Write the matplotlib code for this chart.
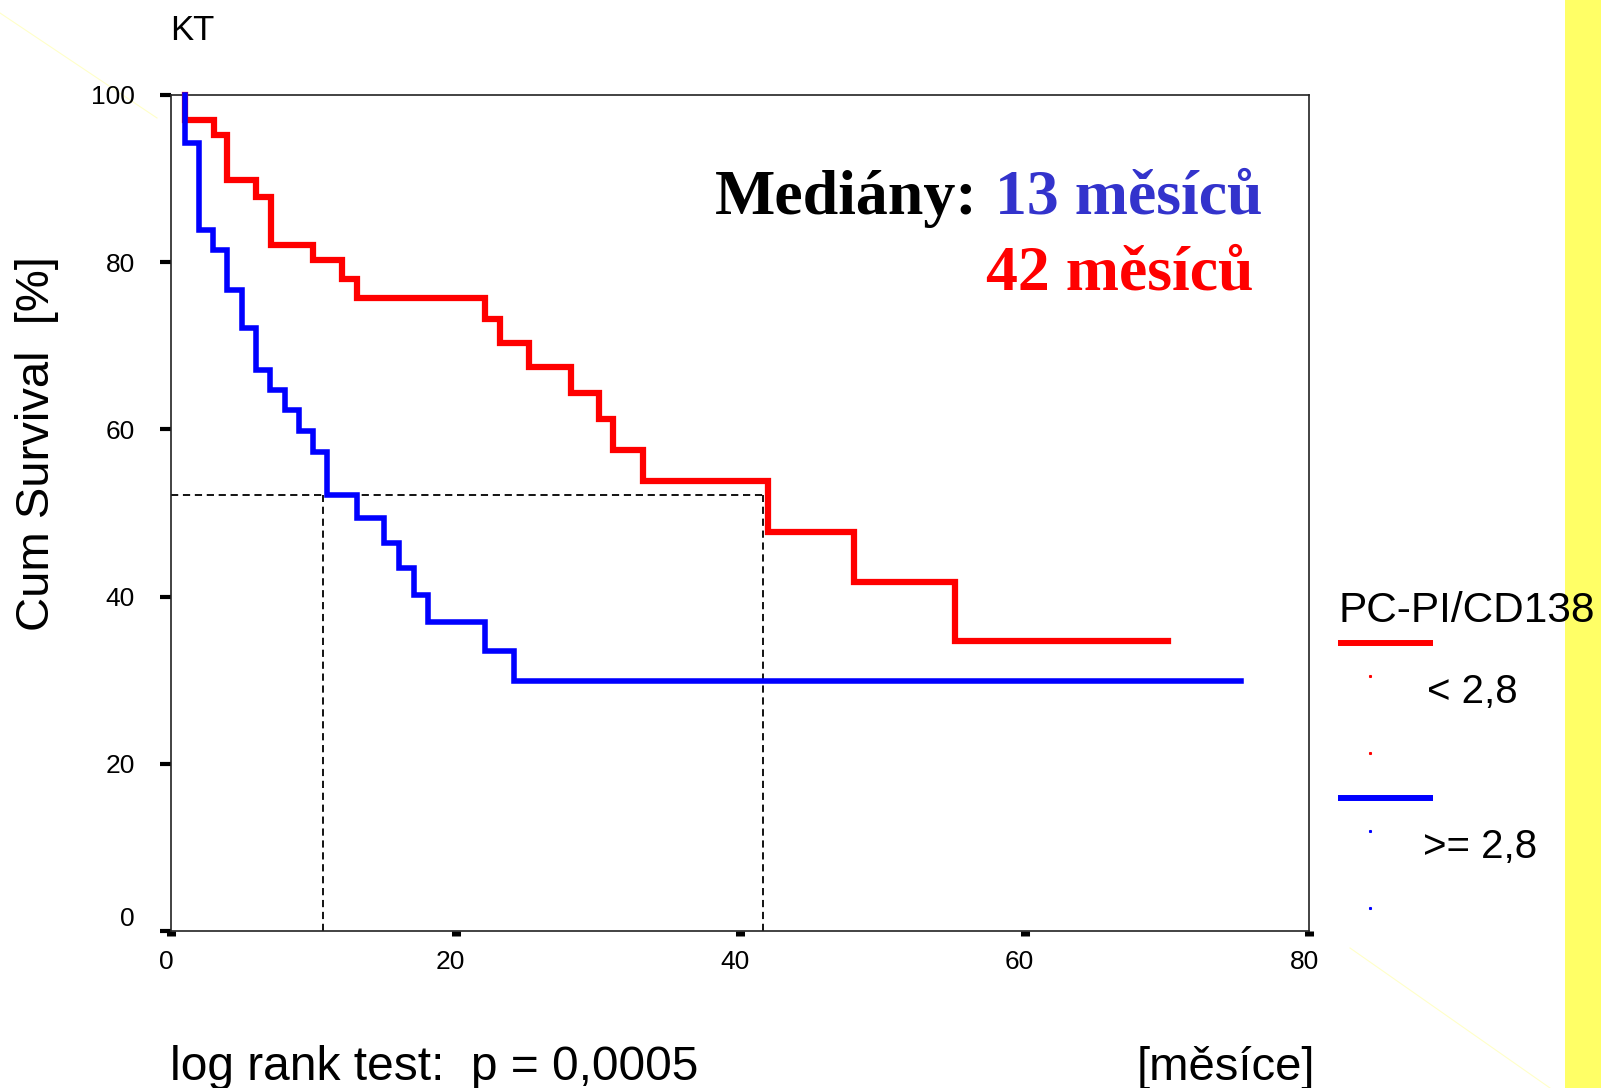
#!/usr/bin/env python3
"""
Kaplan-Meier survival curves (KT, PC-PI/CD138) redrawn with matplotlib.
"""

import matplotlib
matplotlib.use('Agg')
import matplotlib.pyplot as plt
import matplotlib.transforms as mtransforms
from matplotlib.lines import Line2D
from matplotlib.patches import Rectangle

# Red group: PC-PI/CD138 < 2,8 (event times in months, survival in %)
red_times = [1.0, 3.0, 3.95, 6.0, 7.0, 10.0, 12.0, 13.05, 22.1, 23.15, 25.15,
             28.1, 30.1, 31.1, 33.2, 42.0, 48.0, 55.1]
red_surv = [97.0, 95.2, 89.8, 87.8, 82.0, 80.3, 78.0, 75.7, 73.2, 70.3, 67.5,
            64.4, 61.2, 57.5, 53.8, 47.7, 41.7, 34.7]
red_end = 70.1

# Blue group: PC-PI/CD138 >= 2,8
blue_times = [1.0, 1.95, 2.97, 3.96, 5.0, 6.0, 6.97, 8.0, 9.0, 10.0, 11.0,
              13.07, 15.0, 16.05, 17.05, 18.06, 22.1, 24.1]
blue_surv = [94.2, 83.9, 81.5, 76.7, 72.1, 67.1, 64.7, 62.3, 59.8, 57.3, 52.2,
             49.4, 46.4, 43.4, 40.2, 37.0, 33.5, 29.9]
blue_end = 75.2

curve_start = 1.0
medians = [13, 42]
median_guide_x = [10.7, 41.6]
median_guide_y = 52.2

legend_title = 'PC-PI/CD138'
legend_labels = ['< 2,8', '>= 2,8']
xticks = [0, 20, 40, 60, 80]
yticks = [0, 20, 40, 60, 80, 100]

RED = '#FF0000'
BLUE = '#0000FF'
W, H = 1601, 1088


def fx(px):
    return px / W


def fy(py):
    return 1 - py / H


plt.rcParams['font.family'] = ['Liberation Sans', 'DejaVu Sans']

fig = plt.figure(figsize=(W / 100, H / 100), dpi=100)
fig.patch.set_facecolor('white')

# yellow strip on the right edge of the slide and faint diagonal decoration
fig.patches.append(Rectangle((fx(1565), 0), 1 - fx(1565), 1, transform=fig.transFigure,
                             facecolor='#FFFF66', edgecolor='none', zorder=0))
for (x0, y0), (x1, y1) in [((0, 13), (157, 118)), ((1350, 948), (1550, 1088))]:
    fig.add_artist(Line2D([fx(x0), fx(x1)], [fy(y0), fy(y1)], transform=fig.transFigure,
                          color='#FFFFC8', lw=0.8, zorder=0))

ax = fig.add_axes([fx(171), fy(931), fx(1309) - fx(171), fy(95) - fy(931)])
ax.set_facecolor('white')
ax.set_xlim(0, 80)
ax.set_ylim(0, 100)

# survival step curves
rx = [curve_start] + red_times + [red_end]
ry = [100] + red_surv + [red_surv[-1]]
bx = [curve_start] + blue_times + [blue_end]
by = [100] + blue_surv + [blue_surv[-1]]
ax.plot(rx, ry, drawstyle='steps-post', color=RED, lw=4.5, zorder=3,
        solid_joinstyle='miter', clip_on=False)
ax.plot(bx, by, drawstyle='steps-post', color=BLUE, lw=4.0, zorder=4,
        solid_joinstyle='miter', clip_on=False)

# median guide lines
dash = (0, (4, 2.6))
ax.plot([0, median_guide_x[1]], [median_guide_y, median_guide_y], color='black',
        lw=1.3, ls=dash, zorder=2)
for mx in median_guide_x:
    ax.plot([mx, mx], [0, median_guide_y], color='black', lw=1.3, ls=dash, zorder=2)

for s in ax.spines.values():
    s.set_linewidth(1.2)
    s.set_color('#222222')

ax.set_xticks(xticks)
ax.set_yticks(yticks)
ax.set_xticklabels([str(v) for v in xticks])
ax.set_yticklabels([str(v) for v in yticks])
ax.tick_params(axis='y', direction='out', length=8, width=3, pad=18,
               labelsize=19, color='black')
ax.tick_params(axis='x', direction='out', length=3.6, width=6.5, pad=10,
               labelsize=19, color='black')
ax.get_yticklabels()[0].set_verticalalignment('bottom')

# x tick labels sit a little to the left of their ticks in the original
shift = mtransforms.ScaledTranslation(-5 / 100, 0, fig.dpi_scale_trans)
for lbl in ax.get_xticklabels():
    lbl.set_transform(lbl.get_transform() + shift)

# texts around the chart
fig.text(fx(170), fy(40), 'KT', fontsize=25, va='baseline', ha='left')
fig.text(fx(37), fy(444), 'Cum Survival  [%]', fontsize=34, rotation=90,
         ha='center', va='center')
fig.text(fx(170), fy(1080), 'log rank test:  p = 0,0005', fontsize=34.5,
         ha='left', va='baseline')
fig.text(fx(1315), fy(1080), '[měsíce]', fontsize=34, ha='right', va='baseline')

serif = ['Liberation Serif', 'DejaVu Serif']
fig.text(fx(715), fy(214), 'Mediány:', fontsize=46, fontweight='bold', family=serif,
         color='black', ha='left', va='baseline')
fig.text(fx(995), fy(214), f'{medians[0]} měsíců', fontsize=46, fontweight='bold',
         family=serif, color='#3333CC', ha='left', va='baseline')
fig.text(fx(986), fy(290), f'{medians[1]} měsíců', fontsize=46, fontweight='bold',
         family=serif, color=RED, ha='left', va='baseline')

# legend drawn by hand, as in the original
fig.text(fx(1338), fy(622), legend_title, fontsize=30.5, ha='left', va='baseline', zorder=5)
for color, label, ly, tx in [(RED, legend_labels[0], 643, 1427),
                             (BLUE, legend_labels[1], 798, 1423)]:
    fig.add_artist(Line2D([fx(1338), fx(1433)], [fy(ly), fy(ly)], transform=fig.transFigure,
                          color=color, lw=4.3, solid_capstyle='butt'))
    for dy in (33, 110):
        fig.add_artist(Line2D([fx(1370)], [fy(ly + dy)], transform=fig.transFigure,
                              color=color, marker='s', ms=1.2, lw=0))
    fig.text(fx(tx), fy(ly + 60), label, fontsize=29, ha='left', va='baseline')

plt.savefig('out.png', dpi=100, facecolor='white')
plt.close()
